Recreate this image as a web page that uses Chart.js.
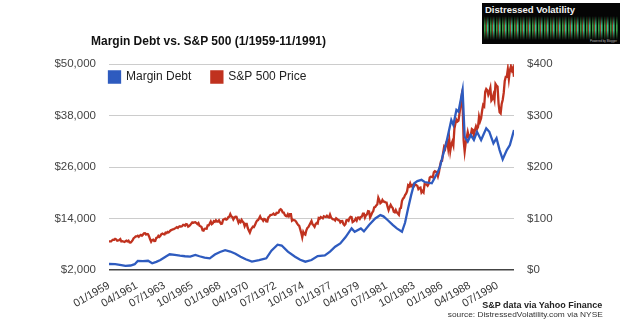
<!DOCTYPE html>
<html>
<head>
<meta charset="utf-8">
<title>Margin Debt vs. S&amp;P 500</title>
<script src="https://cdn.jsdelivr.net/npm/chart.js@4.4.0/dist/chart.umd.min.js"></script>
<style>
  html, body { margin: 0; padding: 0; background: #fff; }
  #wrap { position: relative; width: 624px; height: 335px; overflow: hidden; font-family: Arial, "Liberation Sans", sans-serif; }
  #grafico { position: absolute; left: 0; top: 0; }
  .txt { position: absolute; white-space: nowrap; line-height: 12px; }
  #titulo { left: 91px; top: 35px; font-weight: bold; font-size: 12px; color: #111; transform-origin: left center; }
  #fonte1 { right: 22px; top: 299px; font-weight: bold; font-size: 9px; color: #222; transform-origin: right center; }
  #fonte2 { right: 21px; top: 309px; font-size: 8px; color: #333; transform-origin: right center; }
  #logo { position: absolute; left: 482px; top: 3px; width: 138px; height: 41px; background: #050505; overflow: hidden; }
  #logo .nome { position: absolute; left: 3px; top: 1px; font-size: 9.5px; font-weight: bold; color: #f2f2f2; line-height: 11px; }
  #logo .onda { position: absolute; left: 2px; top: 13px; width: 134px; height: 24px;
    background: repeating-linear-gradient(90deg, #3f9d4a 0 1px, #1d6a2c 1px 2px, #8c3b1f 2px 3px, #3cb8a0 3px 4px, #2b7f36 4px 5px, #050505 5px 6px);
    -webkit-mask-image: linear-gradient(180deg, transparent 0%, #000 40%, #000 60%, transparent 100%);
    mask-image: linear-gradient(180deg, transparent 0%, #000 40%, #000 60%, transparent 100%); }
  #logo .assin { position: absolute; right: 3px; bottom: 1px; font-size: 3px; color: #bbb; }
</style>
</head>
<body>
<div id="wrap">
  <canvas id="grafico" width="624" height="335"></canvas>
  <div class="txt" id="titulo">Margin Debt vs. S&amp;P 500 (1/1959-11/1991)</div>
  <div class="txt" id="fonte1">S&amp;P data via Yahoo Finance</div>
  <div class="txt" id="fonte2">source: DistressedVolatility.com via NYSE</div>
  <div id="logo"><div class="nome">Distressed Volatility</div><div class="onda"></div><div class="assin">Powered by Blogger</div></div>
</div>
<script>
// S&P 500, fechamento mensal a partir de 01/1959
const sp500Inicio = '1959-01';
const sp500 = [
  55.4, 55.4, 55.4, 57.6, 58.7, 58.5, 60.5, 59.6, 56.9, 57.5, 58.3, 59.9,
  55.6, 56.1, 55.3, 54.4, 55.8, 56.9, 55.5, 57.0, 53.5, 53.4, 55.5, 58.1,
  61.8, 63.4, 65.1, 65.3, 66.6, 64.6, 66.8, 68.1, 66.7, 68.6, 71.3, 71.6,
  68.8, 70.0, 69.6, 65.2, 59.6, 54.8, 58.2, 59.1, 56.3, 56.5, 62.3, 63.1,
  66.2, 64.3, 66.6, 69.8, 70.8, 69.4, 69.1, 72.5, 71.7, 74.0, 73.2, 75.0,
  77.0, 77.8, 79.0, 79.5, 80.4, 81.7, 83.2, 81.8, 84.2, 84.9, 84.4, 84.8,
  87.6, 87.4, 86.2, 89.1, 88.4, 84.1, 85.3, 87.2, 90.0, 92.4, 91.6, 92.4,
  92.9, 91.2, 89.2, 91.1, 86.1, 84.7, 83.6, 77.1, 76.6, 80.2, 80.5, 80.3,
  86.6, 86.8, 90.2, 94.0, 89.1, 90.6, 94.8, 93.6, 96.7, 93.9, 94.0, 96.5,
  92.2, 89.4, 90.2, 97.6, 98.7, 99.6, 97.7, 98.9, 102.7, 103.4, 108.4, 103.9,
  103.0, 98.1, 101.5, 103.7, 103.5, 97.7, 91.8, 95.5, 93.1, 97.2, 93.8, 92.1,
  85.0, 89.5, 89.6, 81.5, 76.6, 72.7, 78.1, 81.5, 84.2, 83.3, 87.2, 92.2,
  95.9, 96.8, 100.3, 104.0, 99.6, 98.7, 95.6, 99.0, 98.3, 94.2, 94.0, 102.1,
  103.9, 106.6, 107.2, 107.7, 109.5, 107.1, 107.4, 111.1, 110.6, 111.6, 116.7, 118.1,
  116.0, 111.7, 111.5, 107.0, 105.0, 104.3, 108.2, 104.3, 108.4, 108.3, 96.0, 97.6,
  96.6, 96.2, 94.0, 90.3, 87.3, 86.0, 79.3, 72.2, 63.5, 73.9, 70.0, 68.6,
  77.0, 81.6, 83.4, 87.3, 91.2, 95.2, 88.8, 86.9, 83.9, 89.0, 91.2, 90.2,
  100.9, 99.7, 102.8, 101.6, 100.2, 104.3, 103.4, 102.9, 105.2, 102.9, 102.1, 107.5,
  102.0, 99.8, 98.4, 98.4, 96.1, 100.5, 98.9, 96.8, 96.5, 92.3, 94.8, 95.1,
  89.3, 87.0, 89.2, 96.8, 97.2, 95.5, 100.7, 103.3, 102.5, 93.2, 94.7, 96.1,
  99.9, 96.3, 101.6, 101.8, 99.1, 102.9, 103.8, 109.3, 109.3, 101.8, 106.2, 107.9,
  114.2, 113.7, 102.1, 106.3, 111.2, 114.2, 121.7, 122.4, 125.5, 127.5, 140.5, 135.8,
  129.6, 131.3, 136.0, 132.8, 132.6, 131.2, 130.9, 122.8, 116.2, 121.9, 126.4, 122.6,
  120.4, 113.1, 112.0, 116.4, 111.9, 109.6, 107.1, 119.5, 120.4, 133.7, 138.5, 140.6,
  145.3, 148.1, 153.0, 164.4, 162.4, 168.1, 162.6, 164.4, 166.1, 163.6, 166.4, 164.9,
  163.4, 157.1, 159.2, 160.1, 150.6, 153.2, 150.7, 166.7, 166.1, 166.1, 163.6, 167.2,
  179.6, 181.2, 180.7, 179.8, 189.6, 191.9, 190.9, 188.6, 182.1, 189.8, 202.2, 211.3,
  211.8, 226.9, 238.9, 235.5, 247.4, 250.8, 236.1, 252.9, 231.3, 244.0, 249.2, 242.2,
  274.1, 284.2, 291.7, 288.4, 290.1, 304.0, 318.7, 336.0, 321.8, 251.8, 230.3, 247.1,
  257.1, 267.8, 258.9, 261.3, 262.2, 273.5, 272.0, 261.5, 271.9, 279.0, 273.7, 277.7,
  297.5, 288.9, 294.9, 309.6, 320.5, 318.0, 346.1, 351.5, 349.2, 340.4, 346.0, 353.4,
  329.1, 331.9, 339.9, 330.8, 361.2, 358.0, 356.2, 322.6, 306.1, 304.0, 322.2, 330.2,
  343.9, 367.1, 375.2, 375.4, 389.8, 371.2, 387.8, 395.4, 387.9, 392.5, 375.2
];

// Margin debt (US$ milhões)
const marginDatas = [
  '1959-01', '1959-07', '1960-01', '1960-05', '1960-10', '1961-02', '1961-05', '1961-10',
  '1962-03', '1962-07', '1962-11', '1963-03', '1963-08', '1963-12', '1964-05', '1964-10',
  '1965-03', '1965-08', '1966-01', '1966-05', '1966-10', '1967-03', '1967-08', '1968-01',
  '1968-06', '1968-11', '1969-04', '1969-09', '1970-02', '1970-08', '1971-03', '1971-10',
  '1972-03', '1972-09', '1973-01', '1973-07', '1974-02', '1974-07', '1974-12', '1975-06',
  '1975-12', '1976-07', '1976-12', '1977-05', '1977-10', '1978-03', '1978-09', '1978-12',
  '1979-06', '1979-09', '1980-02', '1980-08', '1981-01', '1981-04', '1981-08', '1982-01',
  '1982-05', '1982-10', '1983-01', '1983-04', '1983-07', '1983-10', '1984-01', '1984-05',
  '1984-08', '1985-03', '1985-09', '1985-11', '1986-01', '1986-05', '1986-10', '1986-12',
  '1987-03', '1987-05', '1987-09', '1987-11', '1988-02', '1988-05', '1988-08', '1988-11',
  '1989-03', '1989-08', '1989-11', '1990-03', '1990-06', '1990-09', '1990-12', '1991-04',
  '1991-07', '1991-11'
];
const marginDebt = [
  3400, 3350, 3150, 2950, 3050, 3350, 4100, 4050,
  4150, 3560, 3900, 4330, 5100, 5660, 5500, 5330,
  5200, 5100, 5500, 5200, 4870, 4720, 5600, 6200,
  6600, 6300, 5800, 5100, 4500, 3940, 4300, 4720,
  6500, 7900, 7700, 6270, 5100, 4400, 3940, 4330,
  5260, 5400, 6300, 7430, 8200, 9620, 11700, 10900,
  11700, 11000, 12500, 14000, 14800, 14500, 13650, 12500,
  11700, 10900, 13000, 16400, 19500, 22200, 22700, 23000,
  22500, 22200, 24900, 26070, 28000, 31500, 36950, 35800,
  39300, 38900, 43950, 33050, 31900, 33450, 32300, 34200,
  32300, 35000, 34200, 31500, 32700, 29950, 27800, 29950,
  31100, 34600
];

const xTickLabels = ['01/1959', '04/1961', '07/1963', '10/1965', '01/1968', '04/1970', '07/1972',
  '10/1974', '01/1977', '04/1979', '07/1981', '10/1983', '01/1986', '04/1988', '07/1990'];

const corMargin = '#2e5bbf';
const corSP = '#c0321f';

// meses desde o início (aceita 'AAAA-MM' ou 'MM/AAAA')
function mesIndice(s) {
  let ano, mes;
  if (s.includes('/')) { [mes, ano] = s.split('/').map(Number); }
  else { [ano, mes] = s.split('-').map(Number); }
  const [a0, m0] = sp500Inicio.split('-').map(Number);
  return (ano - a0) * 12 + (mes - m0);
}

const pontosSP = sp500.map((v, i) => ({ x: i, y: v }));
const pontosMargin = marginDebt.map((v, i) => ({ x: mesIndice(marginDatas[i]), y: v }));

// legenda fica no topo, mas é desenhada dentro da área do gráfico
const posLegenda = {
  id: 'posLegenda',
  afterLayout(chart) {
    const lg = chart.legend;
    if (!lg) return;
    const pad = lg.options.labels.padding;
    lg.left = chart.chartArea.left - pad;
    lg.top = chart.chartArea.top + 7 - pad;
    lg.right = lg.left + lg.width;
    lg.bottom = lg.top + lg.height;
  }
};

new Chart(document.getElementById('grafico'), {
  type: 'line',
  data: {
    datasets: [
      {
        label: 'Margin Debt',
        data: pontosMargin,
        yAxisID: 'y',
        borderColor: corMargin,
        backgroundColor: corMargin,
        borderWidth: 2.3,
        pointRadius: 0,
        tension: 0
      },
      {
        label: 'S&P 500 Price',
        data: pontosSP,
        yAxisID: 'y2',
        borderColor: corSP,
        backgroundColor: corSP,
        borderWidth: 2.3,
        pointRadius: 0,
        tension: 0
      }
    ]
  },
  options: {
    responsive: false,
    animation: false,
    // a legenda ocupa 42px no topo -> área começa em 64
    layout: { padding: { top: 22, left: 0, right: 0, bottom: 0 } },
    plugins: {
      legend: {
        position: 'top',
        align: 'start',
        labels: {
          boxWidth: 11,
          boxHeight: 11,
          padding: 20,
          color: '#222',
          font: { family: 'Arial, "Liberation Sans", sans-serif', size: 12 }
        }
      },
      tooltip: { enabled: false }
    },
    scales: {
      x: {
        type: 'linear',
        min: 0,
        max: sp500.length - 1,
        border: { display: false },
        grid: { display: false, drawTicks: false },
        afterBuildTicks: (scale) => {
          scale.ticks = xTickLabels.map(l => ({ value: mesIndice(l) }));
        },
        afterFit: (scale) => { scale.height = 65; },
        ticks: {
          autoSkip: false,
          minRotation: 30,
          maxRotation: 30,
          padding: 9,
          color: '#333',
          font: { family: 'Arial, "Liberation Sans", sans-serif', size: 11 },
          callback: (v) => xTickLabels.find(l => mesIndice(l) === v) || ''
        }
      },
      y: {
        position: 'left',
        min: 2000,
        max: 50000,
        border: { display: false },
        grid: {
          drawTicks: false,
          color: (c) => c.tick && c.tick.value === 2000 ? '#444' : '#cccccc',
          lineWidth: (c) => c.tick && c.tick.value === 2000 ? 1.6 : 1
        },
        afterFit: (scale) => { scale.width = 109; },
        ticks: {
          stepSize: 12000,
          padding: 13,
          color: '#444',
          font: { family: 'Arial, "Liberation Sans", sans-serif', size: 11.5 },
          callback: (v) => '$' + v.toLocaleString('en-US')
        }
      },
      y2: {
        position: 'right',
        min: 0,
        max: 400,
        border: { display: false },
        grid: { display: false, drawTicks: false },
        afterFit: (scale) => { scale.width = 110; },
        ticks: {
          stepSize: 100,
          padding: 13,
          color: '#444',
          font: { family: 'Arial, "Liberation Sans", sans-serif', size: 11.5 },
          callback: (v) => '$' + v
        }
      }
    }
  },
  plugins: [posLegenda]
});

// ajusta a largura dos textos à da imagem original
function ajustar(id, largura) {
  const el = document.getElementById(id);
  const w = el.getBoundingClientRect().width;
  if (w > 0) el.style.transform = 'scaleX(' + (largura / w) + ')';
}
ajustar('titulo', 235);
ajustar('fonte1', 120);
ajustar('fonte2', 155);
</script>
</body>
</html>
